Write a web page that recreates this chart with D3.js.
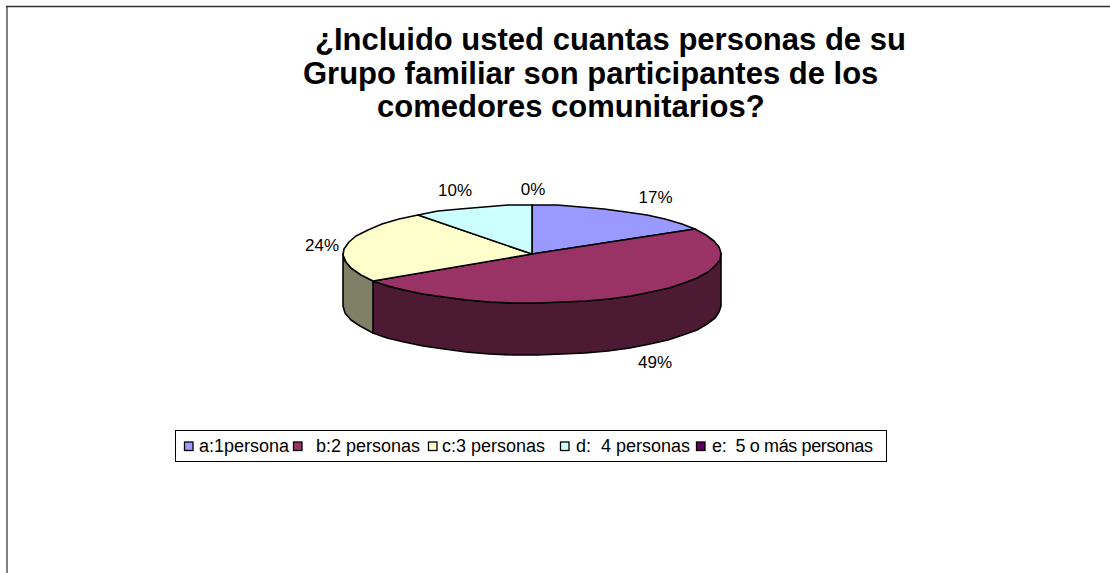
<!DOCTYPE html>
<html><head><meta charset="utf-8">
<script src="https://cdn.jsdelivr.net/npm/d3@7"></script>
<style>html,body{margin:0;padding:0;background:#fff}svg{display:block}text{font-family:"Liberation Sans",Arial,sans-serif;fill:#000}</style>
</head><body><svg id="c" width="1110" height="573"></svg>
<script>
const categories=["a:1persona","b:2 personas","c:3 personas","d:  4 personas","e:  5 o más personas"];
const values=[16.6,49.3,23.8,10.3,0.0001];
const valueLabels=["17%","49%","24%","10%","0%"];
const topColors=["#9999FF","#993366","#FFFFCC","#CCFFFF","#660066"];
const sideColors=["#4d4d80","#4d1a33","#808066","#668080","#330033"];
const titleLines=["¿Incluido usted cuantas personas de su","Grupo familiar son participantes de los","comedores comunitarios?"];

const svg=d3.select("#c");
const W=1110,H=573,cx=532,cy=254,rx=189,ry=49,depth=52;
svg.append("line").attr("x1",7).attr("x2",7).attr("y1",6).attr("y2",H).attr("stroke","#808080").attr("stroke-width",2);
svg.append("line").attr("x1",6).attr("x2",W).attr("y1",6.5).attr("y2",6.5).attr("stroke","#333").attr("stroke-width",1.4);

const pie=d3.pie().sort(null).value(d=>d)(values);
const px=a=>cx+rx*Math.sin(a), py=a=>cy-ry*Math.cos(a);
const step=Math.PI/24;
function arcPts(a0,a1,dy=0){const n=Math.max(1,Math.round((a1-a0)/step));
  return d3.range(n+1).map(i=>{const a=a0+(a1-a0)*i/n;return [Math.round(px(a)),Math.round(py(a)+dy)];});}
const line=d3.line();
const drawSide=(p)=>{const a0=Math.max(p.startAngle,Math.PI/2),a1=Math.min(p.endAngle,3*Math.PI/2);
  if(a1<=a0)return;
  const t=arcPts(a0,a1),b=arcPts(a0,a1,depth).reverse();
  svg.append("path").attr("d",line(t.concat(b))+"Z").attr("fill",sideColors[p.index]).attr("stroke","#000").attr("stroke-width",1.6).attr("stroke-linejoin","round");};
pie.forEach(drawSide);
pie.forEach(p=>{if(p.value<0.01)return;
  const pts=[[cx,cy]].concat(arcPts(p.startAngle,p.endAngle));
  svg.append("path").attr("d",line(pts)+"Z").attr("fill",topColors[p.index]).attr("stroke","#000").attr("stroke-width",1.6).attr("stroke-linejoin","round");});

const labelPos=[[655.5,197],[655,362],[322,245],[455,190],[533,189]];
svg.selectAll("text.v").data(valueLabels).join("text").attr("class","v")
 .attr("x",(d,i)=>labelPos[i][0]).attr("y",(d,i)=>labelPos[i][1]).attr("dy","0.35em")
 .attr("text-anchor","middle").attr("font-size",17).text(d=>d);

const titlePos=[[315,50],[303,83.5],[377,117]];
svg.selectAll("text.t").data(titleLines).join("text").attr("class","t")
 .attr("x",(d,i)=>titlePos[i][0]).attr("y",(d,i)=>titlePos[i][1])
 .attr("font-size",31).attr("font-weight","bold").text(d=>d);

svg.append("rect").attr("x",175.5).attr("y",430.5).attr("width",711).attr("height",31).attr("fill","#fff").attr("stroke","#000").attr("stroke-width",1);
const legX=[[184,199],[293,316],[428,442],[560,576],[696,712]];
categories.forEach((c,i)=>{
 svg.append("rect").attr("x",legX[i][0]+.5).attr("y",442).attr("width",8.5).attr("height",8.5).attr("fill",topColors[i]).attr("stroke","#000").attr("stroke-width",1.3);
 const t=svg.append("text").attr("x",legX[i][1]).attr("y",452).attr("font-size",18).style("white-space","pre").text(c);
 if(i===4) t.attr("textLength",161).attr("lengthAdjust","spacing");
});
</script></body></html>
